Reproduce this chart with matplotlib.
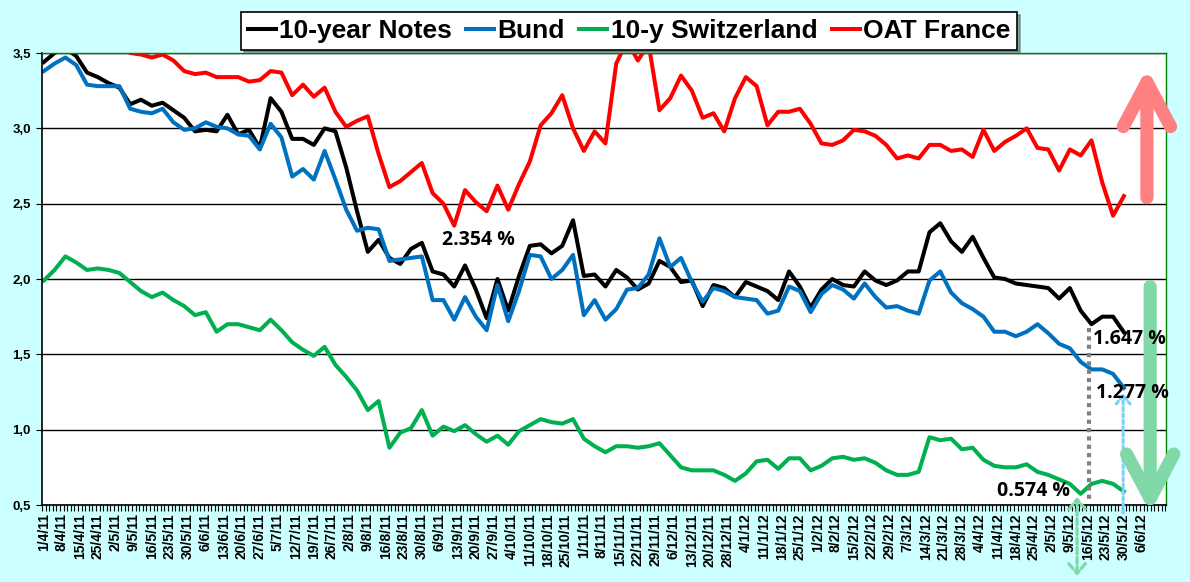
import numpy as np
import matplotlib
matplotlib.use("Agg")
import matplotlib.pyplot as plt
import matplotlib.ticker as ticker

plt.rcParams['font.family'] = ['Liberation Sans', 'DejaVu Sans']

# one reading every 3 trading days, category axis of trading days
STEP = 3
N_CATS = 312

tick_labels = ["1/4/11", "8/4/11", "15/4/11", "25/4/11", "2/5/11", "9/5/11", "16/5/11", "23/5/11",
               "30/5/11", "6/6/11", "13/6/11", "20/6/11", "27/6/11", "5/7/11", "12/7/11", "19/7/11",
               "26/7/11", "2/8/11", "9/8/11", "16/8/11", "23/8/11", "30/8/11", "6/9/11", "13/9/11",
               "20/9/11", "27/9/11", "4/10/11", "11/10/11", "18/10/11", "25/10/11", "1/11/11", "8/11/11",
               "15/11/11", "22/11/11", "29/11/11", "6/12/11", "13/12/11", "20/12/11", "28/12/11", "4/1/12",
               "11/1/12", "18/1/12", "25/1/12", "1/2/12", "8/2/12", "15/2/12", "22/2/12", "29/2/12",
               "7/3/12", "14/3/12", "21/3/12", "28/3/12", "4/4/12", "11/4/12", "18/4/12", "25/4/12",
               "2/5/12", "9/5/12", "16/5/12", "23/5/12", "30/5/12", "6/6/12"]

notes_10y = [3.44, 3.50, 3.53, 3.48, 3.37, 3.34, 3.30, 3.27, 3.16, 3.19, 3.15, 3.17, 3.12, 3.07,
             2.98, 2.99, 2.98, 3.09, 2.96, 2.99, 2.87, 3.20, 3.11, 2.93, 2.93, 2.89, 3.00,
             2.98, 2.74, 2.45, 2.18, 2.26, 2.14, 2.10, 2.20, 2.24, 2.05, 2.03, 1.95, 2.09,
             1.93, 1.74, 2.00, 1.79, 2.02, 2.22, 2.23, 2.17, 2.22, 2.39, 2.02, 2.03, 1.95,
             2.06, 2.01, 1.93, 1.97, 2.12, 2.08, 1.98, 1.99, 1.82, 1.96, 1.94, 1.88, 1.98,
             1.95, 1.92, 1.86, 2.05, 1.95, 1.81, 1.93, 2.00, 1.96, 1.95, 2.05, 1.99, 1.96,
             1.99, 2.05, 2.05, 2.31, 2.37, 2.25, 2.18, 2.28, 2.14, 2.01, 2.00, 1.97, 1.96,
             1.95, 1.94, 1.87, 1.94, 1.79, 1.70, 1.75, 1.75, 1.647]

bund = [3.38, 3.43, 3.47, 3.42, 3.29, 3.28, 3.28, 3.28, 3.13, 3.11, 3.10, 3.13, 3.04, 2.99,
        3.00, 3.04, 3.01, 3.00, 2.96, 2.95, 2.86, 3.03, 2.94, 2.68, 2.73, 2.66, 2.85,
        2.66, 2.46, 2.32, 2.34, 2.33, 2.12, 2.13, 2.14, 2.15, 1.86, 1.86, 1.73, 1.88,
        1.75, 1.66, 1.96, 1.72, 1.92, 2.16, 2.15, 2.00, 2.06, 2.16, 1.76, 1.86, 1.73,
        1.80, 1.93, 1.94, 2.03, 2.27, 2.08, 2.14, 1.98, 1.85, 1.94, 1.92, 1.88, 1.87,
        1.86, 1.77, 1.79, 1.95, 1.92, 1.78, 1.90, 1.96, 1.93, 1.87, 1.97, 1.88, 1.81,
        1.82, 1.79, 1.77, 1.99, 2.05, 1.91, 1.84, 1.80, 1.75, 1.65, 1.65, 1.62, 1.65,
        1.70, 1.64, 1.57, 1.54, 1.45, 1.40, 1.40, 1.37, 1.277]

swiss_10y = [1.99, 2.06, 2.15, 2.11, 2.06, 2.07, 2.06, 2.04, 1.98, 1.92, 1.88, 1.91, 1.86, 1.82,
             1.76, 1.78, 1.65, 1.70, 1.70, 1.68, 1.66, 1.73, 1.66, 1.58, 1.53, 1.49, 1.55,
             1.43, 1.35, 1.26, 1.13, 1.19, 0.88, 0.98, 1.01, 1.13, 0.96, 1.02, 0.99, 1.03,
             0.97, 0.92, 0.96, 0.90, 0.99, 1.03, 1.07, 1.05, 1.04, 1.07, 0.94, 0.89, 0.85,
             0.89, 0.89, 0.88, 0.89, 0.91, 0.83, 0.75, 0.73, 0.73, 0.73, 0.70, 0.66, 0.71,
             0.79, 0.80, 0.74, 0.81, 0.81, 0.73, 0.76, 0.81, 0.82, 0.80, 0.81, 0.78, 0.73,
             0.70, 0.70, 0.72, 0.95, 0.93, 0.94, 0.87, 0.88, 0.80, 0.76, 0.75, 0.75, 0.77,
             0.72, 0.70, 0.67, 0.64, 0.574, 0.64, 0.66, 0.64, 0.59]

oat_france = [3.60, 3.62, 3.65, 3.63, 3.60, 3.62, 3.58, 3.55, 3.50, 3.49, 3.47, 3.49, 3.45, 3.38,
              3.36, 3.37, 3.34, 3.34, 3.34, 3.31, 3.32, 3.38, 3.37, 3.22, 3.29, 3.21, 3.27,
              3.11, 3.01, 3.05, 3.08, 2.83, 2.61, 2.65, 2.71, 2.77, 2.57, 2.50, 2.354, 2.59,
              2.51, 2.45, 2.62, 2.46, 2.63, 2.78, 3.02, 3.10, 3.22, 3.00, 2.85, 2.98, 2.90,
              3.43, 3.58, 3.45, 3.56, 3.12, 3.20, 3.35, 3.25, 3.07, 3.10, 2.98, 3.20, 3.34,
              3.28, 3.02, 3.11, 3.11, 3.13, 3.03, 2.90, 2.89, 2.92, 2.99, 2.98, 2.95, 2.89,
              2.80, 2.82, 2.80, 2.89, 2.89, 2.85, 2.86, 2.81, 2.99, 2.85, 2.91, 2.95, 3.00,
              2.87, 2.86, 2.72, 2.86, 2.82, 2.92, 2.64, 2.42, 2.55]

for s in (bund, swiss_10y, oat_france):
    assert len(s) == len(notes_10y)

x = np.arange(len(notes_10y)) * STEP
BG = '#CCFFFF'

fig = plt.figure(figsize=(11.9, 5.82), dpi=100, facecolor=BG)
ax = fig.add_axes([42 / 1190, 77 / 582, 1124 / 1190, 452 / 582])
ax.set_facecolor('white')

lw = 2.9
l1, = ax.plot(x, notes_10y, color='black', lw=lw, label='10-year Notes')
l2, = ax.plot(x, bund, color='#0070C0', lw=lw, label='Bund')
l3, = ax.plot(x, swiss_10y, color='#00B050', lw=lw, label='10-y Switzerland')
l4, = ax.plot(x, oat_france, color='#FF0000', lw=lw, label='OAT France')

ax.set_xlim(-0.5, N_CATS - 0.3)
ax.set_ylim(0.5, 3.5)

ax.yaxis.set_major_locator(ticker.MultipleLocator(0.5))
ax.yaxis.set_major_formatter(ticker.FuncFormatter(lambda v, p: f"{v:.1f}".replace('.', ',')))
ax.yaxis.grid(True, color='black', lw=1.0)
ax.set_axisbelow(True)

ax.set_xticks(np.arange(len(tick_labels)) * 5)
ax.set_xticklabels(tick_labels, rotation=90)
ax.xaxis.set_minor_locator(ticker.FixedLocator(np.arange(-0.5, N_CATS, 1)))
ax.tick_params(axis='x', which='major', length=0, pad=6)
ax.tick_params(axis='x', which='minor', length=4, width=0.8, direction='out')
ax.tick_params(axis='y', which='major', length=4, width=0.8, pad=4)
for t in ax.get_xticklabels():
    t.set_fontweight('bold')
    t.set_fontsize(10)
for t in ax.get_yticklabels():
    t.set_fontweight('bold')
    t.set_fontsize(9.5)

for side in ('top', 'right'):
    ax.spines[side].set_color('#008000')
    ax.spines[side].set_linewidth(1.0)
ax.spines['left'].set_linewidth(1.2)
ax.spines['bottom'].set_linewidth(1.2)

leg = ax.legend(handles=[l1, l2, l3, l4], ncol=4, loc='center',
                bbox_to_anchor=(629 / 1190, 1 - 31 / 582), bbox_transform=fig.transFigure,
                prop=dict(weight='bold', size=19), handlelength=1.06, handletextpad=0.12,
                columnspacing=0.55, borderpad=0.25, frameon=True, fancybox=False,
                shadow=True, edgecolor='black', framealpha=1)
leg.get_frame().set_linewidth(1.2)

# dotted guides
ax.plot([290.4, 290.4], [1.675, 0.51], ls=(0, (1, 1)), lw=3, color='#808080', clip_on=False)
ax.annotate('', xy=(299.8, 1.243), xytext=(299.8, 0.447), annotation_clip=False,
            arrowprops=dict(arrowstyle='->,head_length=6,head_width=5', lw=2.3,
                            ls=(0, (1, 1)), color='#7FD3F7', mutation_scale=1,
                            shrinkA=0, shrinkB=0))
ax.annotate('', xy=(287, 0.03), xytext=(287, 0.553), annotation_clip=False,
            arrowprops=dict(arrowstyle='<->,head_length=7,head_width=6', lw=2.3,
                            ls=(0, (2, 1)), color='#7FD8A6', mutation_scale=1,
                            shrinkA=0, shrinkB=0))

# big arrows
big = dict(arrowstyle='->,head_length=32,head_width=17', lw=9.5, mutation_scale=1,
           shrinkA=0, shrinkB=0, capstyle='round', joinstyle='round')
ax.annotate('', xy=(306.4, 3.40), xytext=(306.4, 2.54), annotation_clip=False,
            arrowprops=dict(color='#FF8080', **big))
ax.annotate('', xy=(307.3, 0.45), xytext=(307.3, 1.95), annotation_clip=False,
            arrowprops=dict(color='#7FD8A6', **big))

# value labels, on top of the arrows
lab = dict(fontsize=14, fontweight='bold', family=['Open Sans', 'DejaVu Sans'],
           va='center', ha='left', color='black', zorder=6)
ax.text(110.6, 2.26, "2.354 %", **lab)
ax.text(291.4, 1.60, "1.647 %", clip_on=False, **lab)
ax.text(292.3, 1.243, "1.277 %", clip_on=False, **lab)
ax.text(264.8, 0.593, "0.574 %", **lab)

fig.savefig('out.png', dpi=100, facecolor=BG)
